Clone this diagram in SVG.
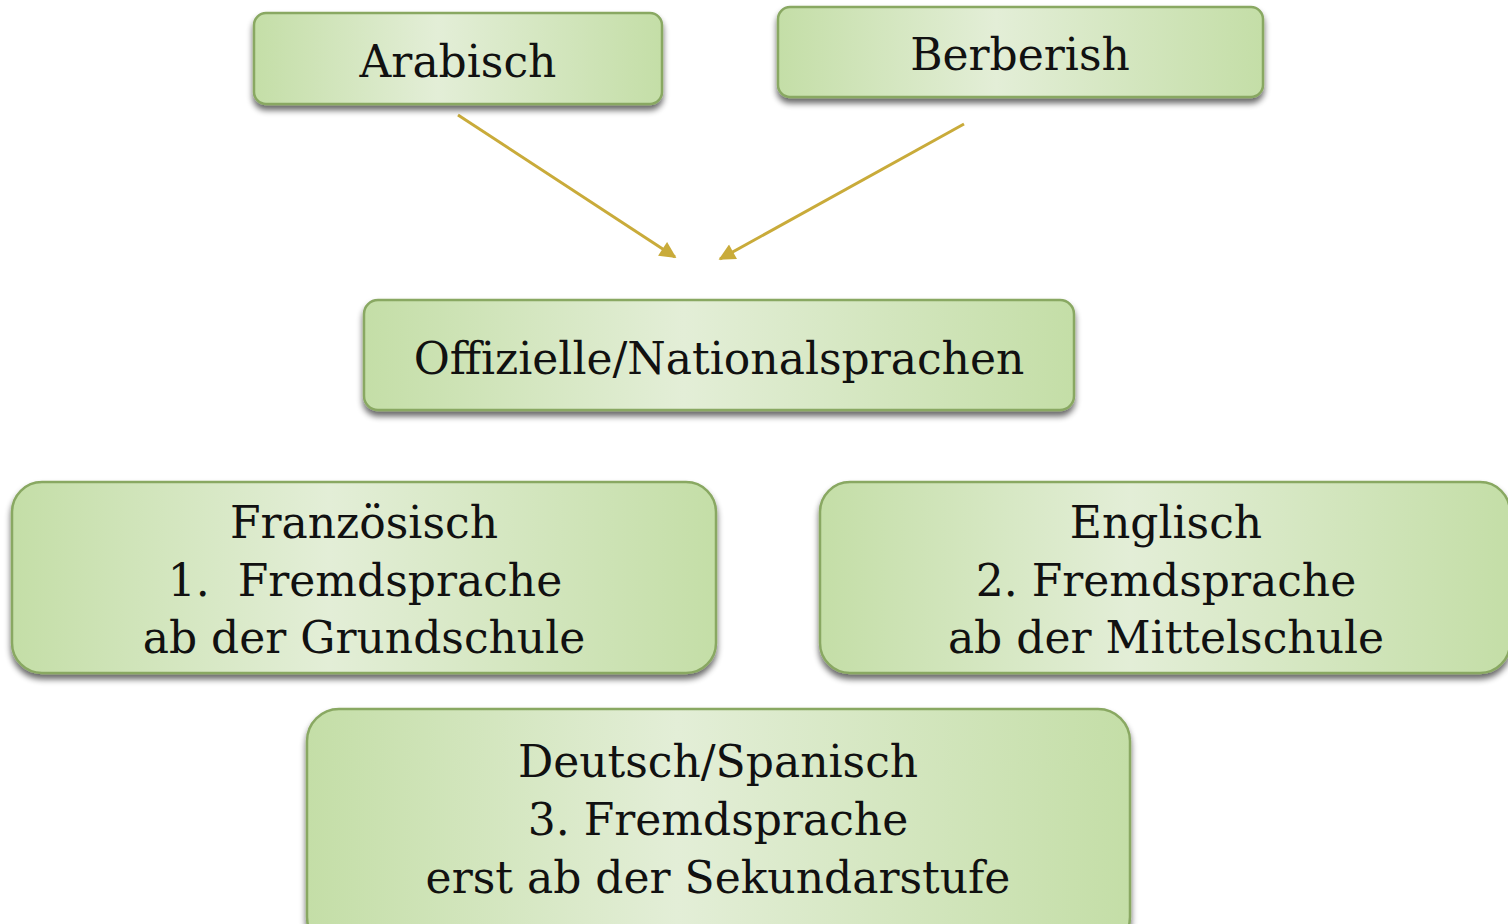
<svg xmlns="http://www.w3.org/2000/svg" width="1508" height="924" viewBox="0 0 1508 924">
<defs>
<linearGradient id="g" x1="0" y1="0" x2="1" y2="0">
<stop offset="0" stop-color="#c4dea7"/>
<stop offset="0.45" stop-color="#e3eed7"/>
<stop offset="1" stop-color="#c4dea7"/>
</linearGradient>
<filter id="sh" x="-5%" y="-10%" width="110%" height="130%">
<feGaussianBlur in="SourceAlpha" stdDeviation="3"/>
<feOffset dx="0" dy="5" result="b"/>
<feComponentTransfer><feFuncA type="linear" slope="0.6"/></feComponentTransfer>
<feMerge><feMergeNode/><feMergeNode in="SourceGraphic"/></feMerge>
</filter>
<marker id="ah" viewBox="0 0 10 10" refX="9" refY="5" markerWidth="6" markerHeight="5.5" orient="auto" markerUnits="strokeWidth">
<path d="M0,0 L10,5 L0,10 z" fill="#c9ab3a"/>
</marker>
</defs>
<style>
.box{fill:url(#g);stroke:#89a862;stroke-width:2.5;filter:url(#sh)}
.t{font-family:"DejaVu Serif","Liberation Serif",serif;font-size:44px;fill:#111;text-anchor:middle;white-space:pre}
.c{stroke:#c9ab3a;stroke-width:3;fill:none;marker-end:url(#ah)}
</style>
<rect width="1508" height="924" fill="#fff"/>
<g id="connectors">
<line class="c" x1="458" y1="115" x2="675" y2="257"/>
<line class="c" x1="964" y1="124" x2="720" y2="259"/>
</g>
<g id="arabisch">
<rect class="box" x="254" y="13" width="408" height="91" rx="12"/>
<text class="t" x="458" y="77">Arabisch</text>
</g>
<g id="berberish">
<rect class="box" x="778" y="7" width="485" height="90" rx="12"/>
<text class="t" x="1020" y="70">Berberish</text>
</g>
<g id="offizielle">
<rect class="box" x="364" y="300" width="710" height="110" rx="14"/>
<text class="t" x="719" y="374">Offizielle/Nationalsprachen</text>
</g>
<g id="franzoesisch">
<rect class="box" x="12" y="482" width="704" height="191" rx="30"/>
<text class="t" x="364" y="538">Französisch</text>
<text class="t" x="365" y="596">1.  Fremdsprache</text>
<text class="t" x="364" y="653">ab der Grundschule</text>
</g>
<g id="englisch">
<rect class="box" x="820" y="482" width="690" height="191" rx="30"/>
<text class="t" x="1166" y="538">Englisch</text>
<text class="t" x="1166" y="596">2. Fremdsprache</text>
<text class="t" x="1166" y="653">ab der Mittelschule</text>
</g>
<g id="deutsch">
<rect class="box" x="307" y="709" width="823" height="240" rx="32"/>
<text class="t" x="718" y="777">Deutsch/Spanisch</text>
<text class="t" x="718" y="835">3. Fremdsprache</text>
<text class="t" x="718" y="893">erst ab der Sekundarstufe</text>
</g>
</svg>
